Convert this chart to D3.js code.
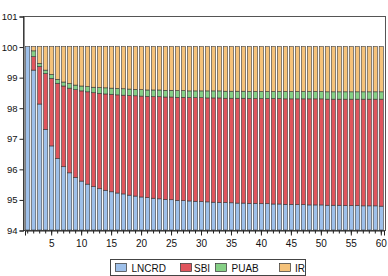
<!DOCTYPE html>
<html>
<head>
<meta charset="utf-8">
<script src="https://cdn.jsdelivr.net/npm/d3@7"></script>
<style>
  body { margin: 0; background: #fff; }
  svg { display: block; font-family: "Liberation Sans", Arial, sans-serif; }
</style>
</head>
<body>
<div id="vis"></div>
<script>
// data: shares of each component, periods 1..60
const PERIODS = d3.range(1, 61);
const SERIES = ["LNCRD", "SBI", "PUAB", "IR"];
const COLORS = ["#9ec0ea", "#e0555d", "#86d086", "#f5c27a"];

const LNCRD = [100.00, 99.23, 98.12, 97.29, 96.75, 96.34, 96.07, 95.87, 95.72, 95.60,
  95.50, 95.42, 95.35, 95.30, 95.25, 95.21, 95.18, 95.14, 95.11, 95.08,
  95.06, 95.04, 95.02, 95.00, 94.99, 94.97, 94.96, 94.95, 94.94, 94.93,
  94.92, 94.91, 94.90, 94.90, 94.89, 94.88, 94.88, 94.87, 94.87, 94.86,
  94.86, 94.85, 94.85, 94.84, 94.84, 94.83, 94.83, 94.82, 94.82, 94.82,
  94.81, 94.81, 94.81, 94.80, 94.80, 94.80, 94.79, 94.79, 94.79, 94.78];
const SBI = [0.00, 0.44, 1.23, 1.83, 2.21, 2.46, 2.64, 2.77, 2.87, 2.95,
  3.02, 3.07, 3.12, 3.15, 3.19, 3.21, 3.23, 3.26, 3.28, 3.30,
  3.31, 3.32, 3.34, 3.35, 3.36, 3.37, 3.38, 3.38, 3.39, 3.40,
  3.40, 3.41, 3.42, 3.41, 3.42, 3.43, 3.43, 3.43, 3.43, 3.44,
  3.44, 3.45, 3.45, 3.45, 3.45, 3.46, 3.46, 3.47, 3.47, 3.47,
  3.47, 3.47, 3.47, 3.48, 3.48, 3.48, 3.49, 3.49, 3.49, 3.50];
const PUAB = [0.00, 0.19, 0.10, 0.11, 0.13, 0.13, 0.13, 0.15, 0.15, 0.16,
  0.17, 0.18, 0.19, 0.20, 0.20, 0.21, 0.21, 0.21, 0.21, 0.21,
  0.21, 0.22, 0.22, 0.22, 0.22, 0.22, 0.22, 0.22, 0.22, 0.22,
  0.23, 0.23, 0.23, 0.23, 0.23, 0.23, 0.23, 0.23, 0.23, 0.23,
  0.23, 0.23, 0.23, 0.24, 0.24, 0.24, 0.24, 0.24, 0.24, 0.24,
  0.24, 0.24, 0.24, 0.24, 0.24, 0.24, 0.24, 0.24, 0.24, 0.24];
const IR = [0.00, 0.14, 0.55, 0.77, 0.91, 1.07, 1.16, 1.21, 1.26, 1.29,
  1.31, 1.33, 1.34, 1.35, 1.36, 1.37, 1.38, 1.39, 1.40, 1.41,
  1.42, 1.42, 1.42, 1.43, 1.43, 1.44, 1.44, 1.45, 1.45, 1.45,
  1.45, 1.45, 1.45, 1.46, 1.46, 1.46, 1.46, 1.47, 1.47, 1.47,
  1.47, 1.47, 1.47, 1.47, 1.47, 1.47, 1.47, 1.47, 1.47, 1.47,
  1.48, 1.48, 1.48, 1.48, 1.48, 1.48, 1.48, 1.48, 1.48, 1.48];

const Y_TICKS = [94, 95, 96, 97, 98, 99, 100, 101];
const X_TICKS = [5, 10, 15, 20, 25, 30, 35, 40, 45, 50, 55, 60];

// frame
const FRAME_WIDTH = 388;
const FRAME_HEIGHT = 276;
const PLOT = {left: 23, right: 385, top: 16, bottom: 230};

const SVG = d3.select("#vis")
  .append("svg")
    .attr("width", FRAME_WIDTH)
    .attr("height", FRAME_HEIGHT);

// scales
const X_SCALE = d3.scaleBand()
  .domain(PERIODS)
  .range([PLOT.left + 2, PLOT.right - 1])
  .paddingInner(0.3)
  .paddingOuter(0.1);

const Y_SCALE = d3.scaleLinear()
  .domain([94, 101])
  .range([PLOT.bottom, PLOT.top])
  .clamp(true);

// stacked rows
const ROWS = PERIODS.map((p, i) => ({
  period: p, LNCRD: LNCRD[i], SBI: SBI[i], PUAB: PUAB[i], IR: IR[i]
}));
const STACKED = d3.stack().keys(SERIES)(ROWS);

// bars
SVG.append("g")
  .selectAll("g")
  .data(STACKED)
  .enter()
  .append("g")
    .attr("fill", (d, i) => COLORS[i])
  .selectAll("rect")
  .data((d) => d)
  .enter()
  .append("rect")
    .attr("x", (d) => X_SCALE(d.data.period))
    .attr("y", (d) => Y_SCALE(d[1]))
    .attr("width", X_SCALE.bandwidth())
    .attr("height", (d) => Y_SCALE(d[0]) - Y_SCALE(d[1]))
    .attr("stroke", "#3a3a3a")
    .attr("stroke-width", 0.6);

// frame box
SVG.append("rect")
  .attr("x", PLOT.left + 0.5)
  .attr("y", PLOT.top + 0.5)
  .attr("width", PLOT.right - PLOT.left)
  .attr("height", PLOT.bottom - PLOT.top)
  .attr("fill", "none")
  .attr("stroke", "#555");

// y axis
const Y_AXIS = SVG.append("g")
  .attr("transform", "translate(" + (PLOT.left + 0.5) + ",0.5)")
  .call(d3.axisLeft(Y_SCALE).tickValues(Y_TICKS).tickSize(4).tickPadding(2)
    .tickFormat(d3.format("d")));
Y_AXIS.select(".domain").attr("stroke", "#222");
Y_AXIS.selectAll("line").attr("stroke", "#222");
Y_AXIS.selectAll("text")
  .attr("font-size", "9.5px")
  .attr("fill", "#111")
  .style("font-family", "Liberation Sans, Arial, sans-serif");

// x axis: minor ticks at every period, labels every 5
const X_MINOR = SVG.append("g")
  .attr("transform", "translate(0," + (PLOT.bottom + 0.5) + ")")
  .call(d3.axisBottom(X_SCALE).tickValues(PERIODS).tickSize(3).tickFormat(""));
X_MINOR.select(".domain").remove();
X_MINOR.selectAll("line").attr("stroke", "#222");

const X_AXIS = SVG.append("g")
  .attr("transform", "translate(0," + (PLOT.bottom + 0.5) + ")")
  .call(d3.axisBottom(X_SCALE).tickValues(X_TICKS).tickSize(5).tickPadding(4));
X_AXIS.select(".domain").attr("stroke", "#222");
X_AXIS.selectAll("line").attr("stroke", "#222");
X_AXIS.selectAll("text")
  .attr("font-size", "10px")
  .attr("fill", "#111")
  .style("font-family", "Liberation Sans, Arial, sans-serif");

// legend
const LEGEND = SVG.append("g");
LEGEND.append("rect")
  .attr("x", 110.5)
  .attr("y", 259.5)
  .attr("width", 195)
  .attr("height", 16)
  .attr("fill", "#fff")
  .attr("stroke", "#444");

const LEGEND_X = [115, 180, 215, 279];
const LEGEND_TEXT_X = [131.5, 194, 231.5, 295];
SERIES.forEach((s, i) => {
  LEGEND.append("rect")
    .attr("x", LEGEND_X[i] + 0.5)
    .attr("y", 263.5)
    .attr("width", 11)
    .attr("height", 8)
    .attr("fill", COLORS[i])
    .attr("stroke", "#333")
    .attr("stroke-width", 0.7);
  LEGEND.append("text")
    .attr("x", LEGEND_TEXT_X[i])
    .attr("y", 271.5)
    .attr("font-size", "10px")
    .attr("fill", "#111")
    .text(s);
});
</script>
</body>
</html>
